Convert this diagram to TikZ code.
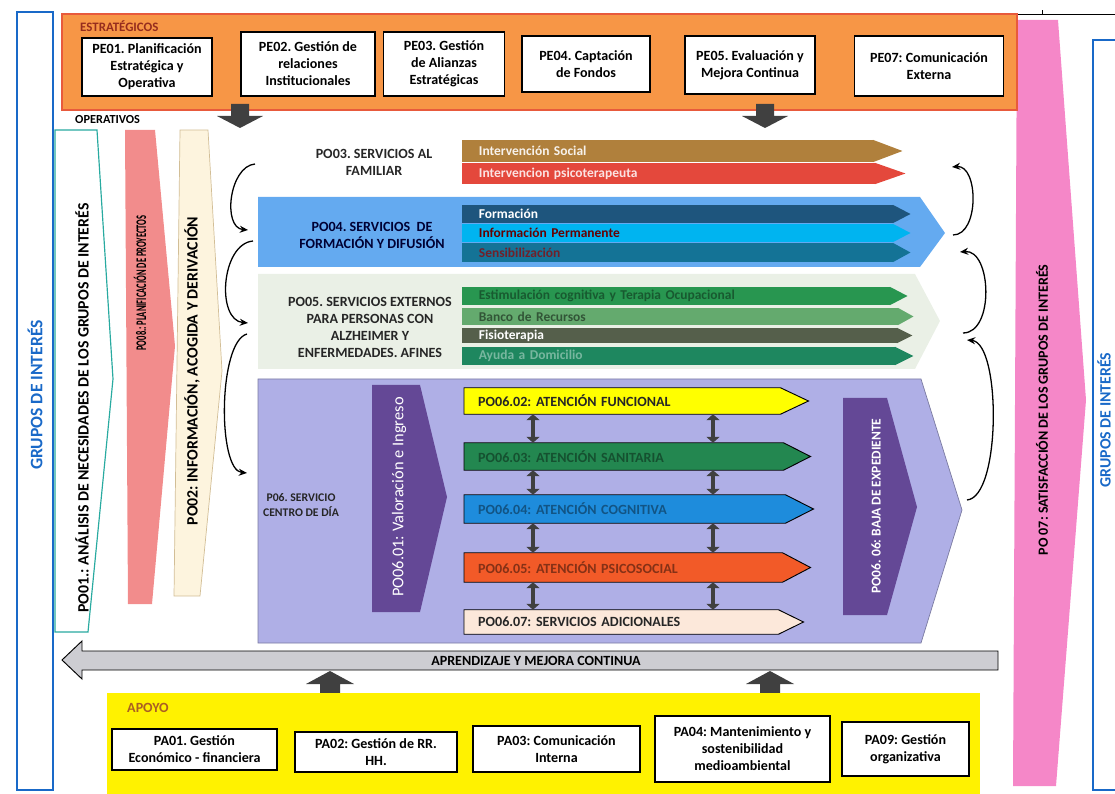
\documentclass[tikz,border=0pt]{standalone}
\usepackage{fontspec}
\setmainfont{Carlito}
\usetikzlibrary{arrows.meta}
\frenchspacing

\definecolor{naranja}{RGB}{247,150,70}
\definecolor{rojoborde}{RGB}{232,90,60}
\definecolor{marron}{RGB}{150,45,30}
\definecolor{rosa}{RGB}{245,135,200}
\definecolor{azulgi}{RGB}{25,105,200}
\definecolor{gris}{RGB}{64,64,64}
\definecolor{turquesa}{RGB}{40,170,160}
\definecolor{salmon}{RGB}{242,140,140}
\definecolor{crema}{RGB}{253,244,222}
\definecolor{beige}{RGB}{210,190,150}
\definecolor{oro}{RGB}{176,128,60}
\definecolor{rojo}{RGB}{228,72,60}
\definecolor{azulclaro}{RGB}{100,170,240}
\definecolor{azulosc}{RGB}{30,85,125}
\definecolor{celeste}{RGB}{0,180,240}
\definecolor{azulteal}{RGB}{20,115,150}
\definecolor{verdefondo}{RGB}{234,240,230}
\definecolor{verde1}{RGB}{40,150,80}
\definecolor{verde2}{RGB}{100,170,110}
\definecolor{verdegris}{RGB}{85,95,75}
\definecolor{verde3}{RGB}{30,135,95}
\definecolor{lavanda}{RGB}{175,175,230}
\definecolor{morado}{RGB}{100,72,150}
\definecolor{amarillo}{RGB}{255,255,0}
\definecolor{verdeat}{RGB}{35,135,80}
\definecolor{azulat}{RGB}{30,140,220}
\definecolor{naranjaat}{RGB}{242,90,40}
\definecolor{rosaclaro}{RGB}{252,232,218}
\definecolor{grisclaro}{RGB}{205,205,210}
\definecolor{amarilloap}{RGB}{255,242,0}
\definecolor{naranjaosc}{RGB}{170,95,35}

\tikzset{
  caja/.style={draw=black, line width=0.9pt, fill=white, align=center, inner sep=1pt,
    font=\fontsize{12}{14.5}\selectfont\bfseries},
  titulo/.style={align=center, text=black!85, font=\fontsize{12}{14.5}\selectfont\bfseries},
  barra/.style={anchor=west, inner xsep=0.5cm, inner ysep=0pt, align=left,
    font=\fontsize{11.5}{12}\selectfont\bfseries},
  barraat/.style={anchor=west, inner xsep=0.42cm, inner ysep=0pt, align=left,
    font=\fontsize{12}{13}\selectfont\bfseries},
  vertical/.style={rotate=90, font=\fontsize{13.5}{15}\selectfont\bfseries},
  doble/.style={draw=gris, line width=3.5pt,
    {Triangle[width=11pt,length=5pt]}-{Triangle[width=11pt,length=5pt]}},
  curva/.style={draw=black, line width=1.1pt, -{Stealth[length=7pt,width=6pt]}}
}

\begin{document}
\begin{tikzpicture}[x=0.03cm, y=-0.03cm]
\useasboundingbox (0,0) rectangle (1115,794);

% Grupos de interes
\draw[azulgi, line width=1pt] (17,12) rectangle (53,790);
\node[vertical, text=azulgi, font=\fontsize{15}{17}\selectfont\bfseries] (gi1) at (35,395) {GRUPOS DE INTERÉS};
\draw[azulgi, line width=1pt] (1093,40) rectangle (1150,790);
\node[vertical, text=azulgi, font=\fontsize{13.5}{15}\selectfont\bfseries] (gi2) at (1104,420) {GRUPOS DE INTERÉS};
\draw (921,14) -- (1115,14);
\draw (1042,14) -- (1042,10);

% Satisfaccion
\fill[rosa] (1017,20) -- (1058,20) -- (1086,400) -- (1056,786) -- (1013,786) -- cycle;
\node[vertical, font=\fontsize{12}{14}\selectfont\bfseries] (po07) at (1042,410) {PO 07: SATISFACCIÓN DE LOS GRUPOS DE INTERÉS};

% Estrategicos
\draw[fill=naranja, draw=rojoborde, line width=1.5pt] (62,14) rectangle (1017,110);
\node[anchor=west, inner sep=0, text=marron, font=\fontsize{11}{12}\selectfont\bfseries] (estr) at (80,26) {ESTRATÉGICOS};
\node[caja, minimum width=3.9cm, minimum height=1.74cm] (pe01) at (147,67) {PE01. Planificación\\Estratégica y\\Operativa};
\node[caja, minimum width=4.02cm, minimum height=1.92cm] (pe02) at (308,64) {PE02. Gestión de\\relaciones\\Institucionales};
\node[caja, minimum width=3.63cm, minimum height=1.92cm] (pe03) at (444,64) {PE03. Gestión\\de Alianzas\\Estratégicas};
\node[caja, minimum width=3.84cm, minimum height=1.68cm] (pe04) at (586,64) {PE04. Captación\\de Fondos};
\node[caja, minimum width=3.9cm, minimum height=1.74cm] (pe05) at (750,65) {PE05. Evaluación y\\Mejora Continua};
\node[caja, minimum width=4.47cm, minimum height=1.8cm] (pe07) at (929,66) {PE07: Comunicación\\Externa};

% Flechas oscuras
\fill[gris] (231,104) -- (249,104) -- (249,116) -- (263,116) -- (240,128) -- (217,116) -- (231,116) -- cycle;
\fill[gris] (756,104) -- (774,104) -- (774,116) -- (788,116) -- (765,128) -- (742,116) -- (756,116) -- cycle;

% Operativos
\node[anchor=west, inner sep=0, font=\fontsize{10.5}{12}\selectfont\bfseries] (oper) at (75,120) {OPERATIVOS};
\draw[turquesa, line width=1pt, fill=white] (55,130) -- (97,130) -- (113,379) -- (88,632) -- (55,632) -- cycle;
\node[vertical] (po01) at (82,408) {PO01.: ANÁLISIS DE NECESIDADES DE LOS GRUPOS DE INTERÉS};
\fill[salmon] (125,130) -- (155,130) -- (175,346) -- (152,604) -- (128,604) -- cycle;
\node[vertical, font=\fontsize{12.5}{14}\selectfont\bfseries] (po08) at (140,283) {\scalebox{0.58}[1]{PO08.: PLANIFICACIÓN DE PROYECTOS}};
\draw[fill=crema, draw=beige, line width=0.6pt] (180,130) -- (208,130) -- (222,371) -- (200,596) -- (174,596) -- cycle;
\node[vertical] (po02) at (192,371) {PO02: INFORMACIÓN, ACOGIDA Y DERIVACIÓN};

% PO03
\node[titulo] (po03) at (374,162) {PO03. SERVICIOS AL\\FAMILIAR};
\node[barra, fill=oro, text=white!90!oro, minimum height=0.66cm, text width=11.33cm] (s1) at (462,151) {Intervención Social};
\fill[oro] ([xshift=-0.6pt]s1.north east) -- ([xshift=0.87cm]s1.east) -- ([xshift=-0.6pt]s1.south east) -- cycle;
\node[barra, fill=rojo, text=white!85!rojo, minimum height=0.63cm, text width=11.39cm] (s2) at (462,173.5) {Intervencion psicoterapeuta};
\fill[rojo] ([xshift=-0.6pt]s2.north east) -- ([xshift=0.9cm]s2.east) -- ([xshift=-0.6pt]s2.south east) -- cycle;

% PO04
\fill[azulclaro] (258,197) -- (920,197) -- (945,233) -- (920,267) -- (258,267) -- cycle;
\node[titulo, text=black!80!blue] (po04) at (372,235) {PO04. SERVICIOS\ \ DE\\FORMACIÓN Y DIFUSIÓN};
\node[barra, fill=azulosc, text=white, minimum height=0.54cm, text width=11.93cm] (f1) at (462,214) {Formación};
\fill[azulosc] ([xshift=-0.6pt]f1.north east) -- ([xshift=0.51cm]f1.east) -- ([xshift=-0.6pt]f1.south east) -- cycle;
\node[barra, fill=celeste, text=black!60!red, minimum height=0.54cm, text width=11.93cm] (f2) at (462,233) {Información Permanente};
\fill[celeste] ([xshift=-0.6pt]f2.north east) -- ([xshift=0.51cm]f2.east) -- ([xshift=-0.6pt]f2.south east) -- cycle;
\node[barra, fill=azulteal, text=azulteal!40!red!70!black, minimum height=0.57cm, text width=11.93cm] (f3) at (462,252.5) {Sensibilización};
\fill[azulteal] ([xshift=-0.6pt]f3.north east) -- ([xshift=0.51cm]f3.east) -- ([xshift=-0.6pt]f3.south east) -- cycle;

% PO05
\fill[verdefondo] (258,274) -- (915,274) -- (940,321) -- (915,369) -- (258,369) -- cycle;
\node[titulo] (po05) at (370,327) {PO05. SERVICIOS EXTERNOS\\PARA PERSONAS CON\\ALZHEIMER Y\\ENFERMEDADES. AFINES};
\node[barra, fill=verde1, text=verde1!60!black, minimum height=0.54cm, text width=11.84cm] (e1) at (462,296) {Estimulación cognitiva y Terapia Ocupacional};
\fill[verde1] ([xshift=-0.6pt]e1.north east) -- ([xshift=0.51cm]e1.east) -- ([xshift=-0.6pt]e1.south east) -- cycle;
\node[barra, fill=verde2, text=verde2!50!black, minimum height=0.51cm, text width=12.08cm] (e2) at (462,316.5) {Banco de Recursos};
\fill[verde2] ([xshift=-0.6pt]e2.north east) -- ([xshift=0.45cm]e2.east) -- ([xshift=-0.6pt]e2.south east) -- cycle;
\node[barra, fill=verdegris, text=white, minimum height=0.45cm, text width=12.05cm] (e3) at (462,335.5) {Fisioterapia};
\fill[verdegris] ([xshift=-0.6pt]e3.north east) -- ([xshift=0.45cm]e3.east) -- ([xshift=-0.6pt]e3.south east) -- cycle;
\node[barra, fill=verde3, text=verde3!60!white, minimum height=0.54cm, text width=11.99cm] (e4) at (462,356) {Ayuda a Domicilio};
\fill[verde3] ([xshift=-0.6pt]e4.north east) -- ([xshift=0.54cm]e4.east) -- ([xshift=-0.6pt]e4.south east) -- cycle;

% PO06 centro de dia
\draw[fill=lavanda, draw=lavanda!70!black, line width=0.6pt] (258,379) -- (921,379) -- (962,510) -- (921,643) -- (258,643) -- cycle;
\node[titulo, font=\fontsize{10}{13}\selectfont\bfseries] (po06) at (301,505) {P06. SERVICIO\\CENTRO DE DÍA};
\fill[morado] (372,385) -- (420,385) -- (447,497) -- (420,612) -- (372,612) -- cycle;
\node[rotate=90, text=white, font=\fontsize{14}{16}\selectfont] (p01) at (399,497) {PO06.01: Valoración e Ingreso};
\fill[morado] (843,398) -- (887,398) -- (917,507) -- (887,615) -- (843,615) -- cycle;
\node[rotate=90, text=white, font=\fontsize{11.5}{13}\selectfont\bfseries] (p06) at (876,506) {PO06. 06: BAJA DE EXPEDIENTE};

\node[barraat, fill=amarillo, text=black!85, minimum height=0.78cm, text width=8.64cm] (p02) at (464,401) {PO06.02: ATENCIÓN FUNCIONAL};
\fill[amarillo] ([xshift=-0.6pt]p02.north east) -- ([xshift=0.84cm]p02.east) -- ([xshift=-0.6pt]p02.south east) -- cycle;
\draw[line width=0.8pt] (p02.north west) -- (p02.north east) -- ([xshift=0.84cm]p02.east) -- (p02.south east) -- (p02.south west) -- cycle;
\node[barraat, fill=verdeat, text=verdeat!60!black, minimum height=0.81cm, text width=8.73cm] (p03) at (464,456.5) {PO06.03: ATENCIÓN SANITARIA};
\fill[verdeat] ([xshift=-0.6pt]p03.north east) -- ([xshift=0.81cm]p03.east) -- ([xshift=-0.6pt]p03.south east) -- cycle;
\draw[line width=0.8pt] (p03.north west) -- (p03.north east) -- ([xshift=0.81cm]p03.east) -- (p03.south east) -- (p03.south west) -- cycle;
\node[barraat, fill=azulat, text=azulat!60!black, minimum height=0.84cm, text width=8.79cm] (p04) at (464,509) {PO06.04: ATENCIÓN COGNITIVA};
\fill[azulat] ([xshift=-0.6pt]p04.north east) -- ([xshift=0.84cm]p04.east) -- ([xshift=-0.6pt]p04.south east) -- cycle;
\draw[line width=0.8pt] (p04.north west) -- (p04.north east) -- ([xshift=0.84cm]p04.east) -- (p04.south east) -- (p04.south west) -- cycle;
\node[barraat, fill=naranjaat, text=naranjaat!55!black, minimum height=0.87cm, text width=8.70cm] (p05) at (464,567.5) {PO06.05: ATENCIÓN PSICOSOCIAL};
\fill[naranjaat] ([xshift=-0.6pt]p05.north east) -- ([xshift=0.84cm]p05.east) -- ([xshift=-0.6pt]p05.south east) -- cycle;
\draw[line width=0.8pt] (p05.north west) -- (p05.north east) -- ([xshift=0.84cm]p05.east) -- (p05.south east) -- (p05.south west) -- cycle;
\node[barraat, fill=rosaclaro, text=black!85, minimum height=0.72cm, text width=8.58cm] (p07) at (464,622) {PO06.07: SERVICIOS ADICIONALES};
\fill[rosaclaro] ([xshift=-0.6pt]p07.north east) -- ([xshift=0.75cm]p07.east) -- ([xshift=-0.6pt]p07.south east) -- cycle;
\draw[line width=0.8pt] (p07.north west) -- (p07.north east) -- ([xshift=0.75cm]p07.east) -- (p07.south east) -- (p07.south west) -- cycle;

% Flechas dobles entre atenciones
\coordinate (colA) at (533,0);
\coordinate (colB) at (713,0);
\foreach \a/\b in {p02/p03, p03/p04, p04/p05, p05/p07} {
  \draw[doble] (\a.south -| colA) -- (\b.north -| colA);
  \draw[doble] (\a.south -| colB) -- (\b.north -| colB);
}

% Flechas curvas
\coordinate (ia1) at (255,164);
\coordinate (ib1) at (248,230);
\coordinate (ia2) at (253,241);
\coordinate (ib2) at (248,323);
\coordinate (ia3) at (247,334);
\coordinate (ib3) at (247,473);
\draw[curva] (ia1) to[out=185, in=175] (ib1);
\draw[curva] (ia2) to[out=185, in=175] (ib2);
\draw[curva] (ia3) to[out=195, in=175, looseness=0.55] (ib3);
\coordinate (da1) at (953,235);
\coordinate (db1) at (952,167);
\coordinate (da2) at (963,333);
\coordinate (db2) at (960,252);
\coordinate (da3) at (967,500);
\coordinate (db3) at (967,340);
\draw[curva] (da1) to[out=0, in=5] (db1);
\draw[curva] (da2) to[out=0, in=5] (db2);
\draw[curva] (da3) to[out=5, in=-5, looseness=0.55] (db3);

% Aprendizaje y mejora continua
\draw[fill=grisclaro, draw=black, line width=0.8pt] (998,651) -- (82,651) -- (82,641) -- (62,660) -- (82,679) -- (82,670) -- (998,670) -- cycle;
\node[font=\fontsize{12}{13}\selectfont\bfseries] (apr) at (536,661) {APRENDIZAJE Y MEJORA CONTINUA};
\fill[gris] (320,694) -- (340,694) -- (340,684) -- (354,684) -- (330,671) -- (306,684) -- (320,684) -- cycle;
\fill[gris] (760,694) -- (780,694) -- (780,684) -- (794,684) -- (770,671) -- (746,684) -- (760,684) -- cycle;

% Apoyo
\fill[amarilloap] (107,693) rectangle (980,794);
\node[anchor=west, inner sep=0, text=naranjaosc, font=\fontsize{12}{13}\selectfont\bfseries] (apoyo) at (127,708) {APOYO};
\node[caja, minimum width=4.95cm, minimum height=1.23cm] (pa01) at (194.5,749.5) {PA01. Gestión\\Económico - financiera};
\node[caja, minimum width=4.86cm, minimum height=1.2cm] (pa02) at (376,752) {PA02: Gestión de RR.\\HH.};
\node[caja, minimum width=5.01cm, minimum height=1.38cm] (pa03) at (556.5,749) {PA03: Comunicación\\Interna};
\node[caja, minimum width=5.25cm, minimum height=1.98cm] (pa04) at (742.5,749) {PA04: Mantenimiento y\\sostenibilidad\\medioambiental};
\node[caja, minimum width=3.81cm, minimum height=1.62cm] (pa09) at (905.5,749) {PA09: Gestión\\organizativa};
\end{tikzpicture}
\end{document}
